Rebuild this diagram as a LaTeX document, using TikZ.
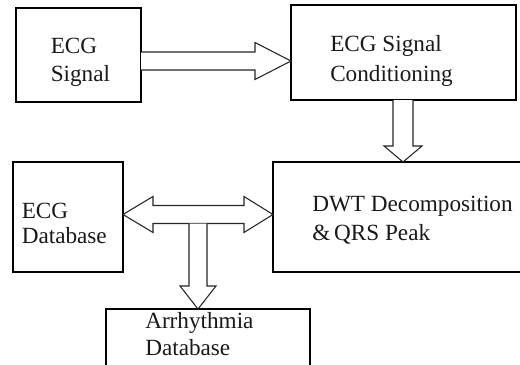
\documentclass[tikz,border=0pt]{standalone}
\usepackage{fontspec}
\setmainfont{Liberation Serif}
\usetikzlibrary{calc}
\begin{document}
\begin{tikzpicture}[x=0.75pt,y=-0.75pt,
  box/.style={draw=black, line width=1.1pt, inner sep=0pt, outer sep=0pt},
  label/.style={anchor=base west, inner sep=0pt, text=black!90, font=\fontsize{17.4}{20}\selectfont},
  blockarrow/.style={draw=black!85, line width=0.8pt, line join=miter, fill=white}]
\useasboundingbox (0,0) rectangle (520,364);
\clip (0,0) rectangle (520,364);

% blocks (px-based sizes, 1px = 0.75pt)
\node[box, minimum width=93.75pt, minimum height=70.5pt]  (sig)  at (78.5,55) {};
\node[box, minimum width=168.75pt, minimum height=71.25pt] (cond) at (403.5,52.5) {};
\node[box, minimum width=82.5pt, minimum height=82.5pt]   (db)   at (68,217) {};
\node[box, minimum width=187.5pt, minimum height=82.5pt]  (dwt)  at (398,217) {};
\node[box, minimum width=153pt, minimum height=47.25pt]   (arr)  at (208,340.5) {};

% block texts
\node[label] (sigA)  at (50.5,53.3)  {ECG};
\node[label] (sigB)  at (50.5,81.7)  {Signal};
\node[label] (condA) at (330,51.7)   {ECG Signal};
\node[label] (condB) at (330,81)     {Conditioning};
\node[label] (dbA)   at (21.5,218.3) {ECG};
\node[label] (dbB)   at (21.5,243.3) {Database};
\node[label] (dwtA)  at (312,211.7)  {DWT Decomposition};
\node[label] (dwtB)  at (312,240)    {\&\,QRS Peak};
\node[label] (arrA)  at (145,328.3)  {Arrhythmia};
\node[label] (arrB)  at (145,355)    {Database};

% ECG Signal => Conditioning
\coordinate (a1s) at (sig.east |- 0,61);
\coordinate (a1t) at (cond.west |- a1s);
\draw[blockarrow] ($(a1s)+(0,-9)$) -- ($(a1t)+(-36,-9)$) -- ($(a1t)+(-36,-18.5)$)
  -- (a1t) -- ($(a1t)+(-36,18.5)$) -- ($(a1t)+(-36,9)$) -- ($(a1s)+(0,9)$);

% Conditioning => DWT
\coordinate (a2s) at (403,0 |- cond.south);
\coordinate (a2t) at (a2s |- dwt.north);
\draw[blockarrow] ($(a2s)+(-10,0)$) -- ($(a2t)+(-10,-16)$) -- ($(a2t)+(-19,-16)$)
  -- (a2t) -- ($(a2t)+(19,-16)$) -- ($(a2t)+(10,-16)$) -- ($(a2s)+(10,0)$);

% ECG Database <=> DWT
\coordinate (a3l) at (db.east |- 0,214.5);
\coordinate (a3r) at (dwt.west |- a3l);
\draw[blockarrow] (a3l) -- ($(a3l)+(30,-18)$) -- ($(a3l)+(30,-9)$) -- ($(a3r)+(-29,-9)$)
  -- ($(a3r)+(-29,-18)$) -- (a3r) -- ($(a3r)+(-29,18)$) -- ($(a3r)+(-29,9)$)
  -- ($(a3l)+(30,9)$) -- ($(a3l)+(30,18)$) -- cycle;

% branch down to Arrhythmia Database
\coordinate (a4s) at (198,223.5);
\coordinate (a4t) at (a4s |- arr.north);
\draw[blockarrow] ($(a4s)+(-9,0)$) -- ($(a4t)+(-9,-23)$) -- ($(a4t)+(-18,-23)$)
  -- (a4t) -- ($(a4t)+(18,-23)$) -- ($(a4t)+(9,-23)$) -- ($(a4s)+(9,0)$);
\end{tikzpicture}
\end{document}
